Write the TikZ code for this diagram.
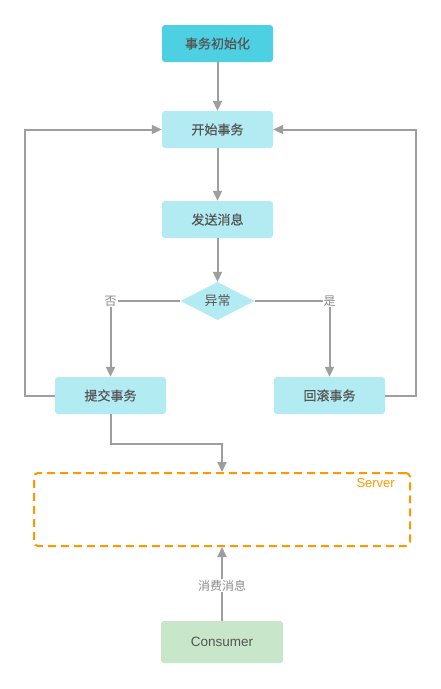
\documentclass[tikz,border=0pt]{standalone}
\usepackage{fontspec}
\setmainfont{Noto Sans CJK SC}
\newfontfamily\cjkmed[FakeBold=0.6]{Noto Sans CJK SC}
\newfontfamily\latinsans{Liberation Sans}
\usetikzlibrary{positioning,shapes.geometric,arrows.meta}
\definecolor{initblue}{HTML}{4DD0E1}
\definecolor{stepcyan}{HTML}{B2EBF2}
\definecolor{linegray}{HTML}{9E9E9E}
\definecolor{textgray}{HTML}{555555}
\definecolor{lblgray}{HTML}{8A8A8A}
\definecolor{serverorange}{HTML}{FF9800}
\definecolor{consgreen}{HTML}{C8E6C9}

\begin{document}
\begin{tikzpicture}[x=1pt, y=-1pt,
    box/.style={rectangle, rounded corners=3pt, minimum width=111pt, minimum height=37pt, inner sep=0pt, text=textgray, font=\cjkmed\fontsize{13}{15}\selectfont},
    link/.style={draw=linegray, line width=2pt, -{Triangle[width=9pt, length=10pt]}},
    lbl/.style={fill=white, text=lblgray, inner sep=1pt, font=\fontsize{12}{14}\selectfont}]
    \useasboundingbox (0,0) rectangle (440,689);

    \node[box, fill=initblue] (init) at (217.5, 43.5) {事务初始化};
    \node[box, fill=stepcyan] (start) at (217.5, 129.5) {开始事务};
    \node[box, fill=stepcyan] (send) at (217.5, 219.5) {发送消息};
    \node[diamond, fill=stepcyan, minimum width=74pt, minimum height=36pt, inner sep=0pt, text=textgray, font=\fontsize{13}{15}\selectfont] (exc) at (217.5, 301) {异常};
    \node[box, fill=stepcyan] (commit) at (110.5, 395.5) {提交事务};
    \node[box, fill=stepcyan] (rollback) at (329.5, 395.5) {回滚事务};
    \node[rectangle, rounded corners=4pt, draw=serverorange, line width=2pt, dash pattern=on 8pt off 5pt, minimum width=376pt, minimum height=73pt] (server) at (222, 509.5) {};
    \node[anchor=base east, inner sep=0pt, text=serverorange, font=\latinsans\fontsize{13}{15}\selectfont] (serverlbl) at (395, 487) {Server};
    \node[box, fill=consgreen, minimum width=122pt, minimum height=42pt, font=\latinsans\fontsize{13.5}{16}\selectfont] (consumer) at (222, 642) {Consumer};

    \draw[link] (init) -- (start);
    \draw[link] (start) -- (send);
    \draw[link] (send) -- (exc);
    \draw[link] (exc.west) -| node[lbl, pos=0.5] (no) {否} (commit.north);
    \draw[link] (exc.east) -| node[lbl, pos=0.5] (yes) {是} (rollback.north);
    \draw[link] (commit.west) -- ++(-30,0) |- (start.west);
    \draw[link] (rollback.east) -- ++(31,0) |- (start.east);
    \draw[link] (commit.south) -- ++(0,30) -| (server.north);
    \draw[link] (consumer.north) -- node[lbl, pos=0.48] (consume) {消费消息} (server.south);
\end{tikzpicture}
\end{document}
